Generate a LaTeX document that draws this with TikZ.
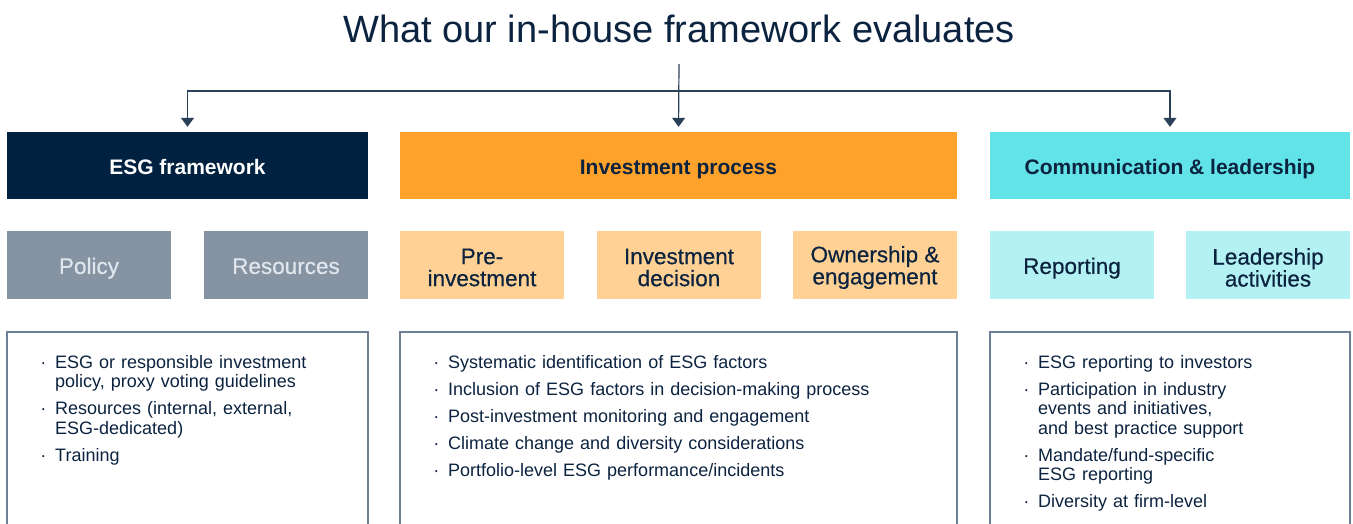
\documentclass[tikz,border=0pt]{standalone}
\usepackage{fontspec}
\setmainfont{Liberation Sans}
\usetikzlibrary{arrows.meta}
\definecolor{navy}{HTML}{00213F}
\definecolor{ink}{HTML}{0C2340}
\definecolor{orangeH}{HTML}{FFA22B}
\definecolor{cyanH}{HTML}{62E3E8}
\definecolor{greyS}{HTML}{8593A3}
\definecolor{greyT}{HTML}{E1E6EC}
\definecolor{orangeS}{HTML}{FFD195}
\definecolor{cyanS}{HTML}{B3F1F3}
\definecolor{panelline}{HTML}{6E8096}
\definecolor{wire}{HTML}{2A3F58}
\newcommand{\bitem}[1]{\par\hangindent=15pt\hangafter=1\noindent\makebox[15pt][l]{\hspace{0.2pt}·}#1}
\begin{document}
\begin{tikzpicture}[x=1pt,y=-1pt,
  hdr/.style={minimum width=#1, minimum height=67pt, inner sep=0pt, text height=19pt, text depth=2pt,
    font=\fontsize{21}{24}\selectfont\bfseries},
  subbox/.style={minimum width=164pt, minimum height=68pt, inner sep=0pt},
  subtxt/.style={inner sep=0pt, align=center, yshift=-2.5pt,
    font=\fontsize{22.5}{22}\selectfont\addfontfeatures{FakeBold=0.5}},
  oneline/.style={text height=16.5pt, text depth=4.7pt, yshift=-0.5pt},
  lst/.style={anchor=north west, inner sep=0pt, text width=#1, align=left, text=ink,
    font=\fontsize{18}{19.5}\selectfont\setlength{\parskip}{7.5pt}},
  panel/.style={draw=panelline, line width=1.1pt},
  wirearrow/.style={draw=wire, line width=1.2pt, -{Triangle[width=13pt,length=9pt]}, shorten >=5pt}
]
\useasboundingbox (0,0) rectangle (1353,523);
\fill[white] (0,0) rectangle (1353,523);

\node[text=ink, font=\fontsize{38}{42}\selectfont, inner sep=0pt] (title) at (679,29) {What our in-house framework evaluates};

% header boxes
\node[hdr=361pt, fill=navy, text=white] (esg) at (187.5,165.5) {ESG framework};
\node[hdr=557pt, fill=orangeH, text=ink] (ip) at (678.5,165.5) {Investment process};
\node[hdr=360pt, fill=cyanH, text=ink] (comm) at (1170,165.5) {Communication \& leadership};

% connectors
\coordinate (top) at (679,64);
\coordinate (hub) at (679,91);
\draw[wirearrow] (top) -- (ip.north);
\draw[wirearrow] (hub) -| (esg.north);
\draw[wirearrow] (hub) -| (comm.north);

% sub boxes
\node[subbox, fill=greyS] (policy) at (89,265) {};
\node[subbox, fill=greyS] (res) at (286,265) {};
\node[subbox, fill=orangeS] (pre) at (482,265) {};
\node[subbox, fill=orangeS] (dec) at (679,265) {};
\node[subbox, fill=orangeS] (own) at (875,265) {};
\node[subbox, fill=cyanS] (rep) at (1072,265) {};
\node[subbox, fill=cyanS] (lead) at (1268,265) {};

\node[subtxt, oneline, text=greyT] (policyT) at (policy) {Policy};
\node[subtxt, oneline, text=greyT] (resT) at (res) {Resources};
\node[subtxt, text=ink] (preT) at (pre) {Pre-\\investment};
\node[subtxt, text=ink] (decT) at (dec) {Investment\\decision};
\node[subtxt, text=ink] (ownT) at (own) {Ownership \&\\engagement};
\node[subtxt, oneline, text=ink] (repT) at (rep) {Reporting};
\node[subtxt, text=ink] (leadT) at (lead) {Leadership\\activities};

% panels
\draw[panel] (7,524) |- (368,332) -- (368,524);
\draw[panel] (400,524) |- (957,332) -- (957,524);
\draw[panel] (990,524) |- (1350,332) -- (1350,524);

\node[lst=310pt] (l1) at (40,341) {%
\bitem{ESG or responsible investment\newline policy, proxy voting guidelines}
\bitem{Resources (internal, external,\newline ESG-dedicated)}
\bitem{Training}};

\node[lst=500pt] (l2) at (433,341) {%
\bitem{Systematic identification of ESG factors}
\bitem{Inclusion of ESG factors in decision-making process}
\bitem{Post-investment monitoring and engagement}
\bitem{Climate change and diversity considerations}
\bitem{Portfolio-level ESG performance/incidents}};

\node[lst=320pt] (l3) at (1023,341) {%
\bitem{ESG reporting to investors}
\bitem{Participation in industry\newline events and initiatives,\newline and best practice support}
\bitem{Mandate/fund-specific\newline ESG reporting}
\bitem{Diversity at firm-level}};
\end{tikzpicture}
\end{document}
